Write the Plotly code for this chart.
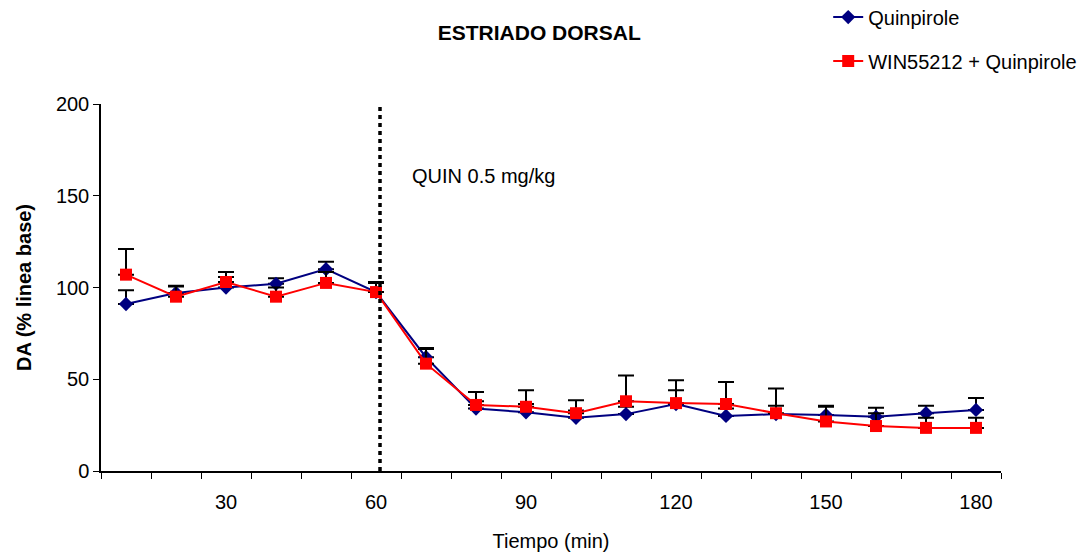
import plotly.graph_objects as go

tiempo = [10, 20, 30, 40, 50, 60, 70, 80, 90, 100, 110, 120, 130, 140, 150, 160, 170, 180]
quin = [91, 97, 100, 102, 110, 97.5, 62, 34, 32, 29, 31, 36.5, 30, 31, 30.5, 29.5, 31.5, 33.3]
quin_err = [7.5, 4, 5.7, 3, 4, 5, 5, 4, 4.5, 4, 4, 7.5, 4, 4.5, 5, 5, 4, 6.5]
win = [107, 95, 103, 95, 102.5, 97.5, 58.5, 36, 35, 31.5, 38, 37, 36.5, 31.5, 27, 24.5, 23.5, 23.5]
win_err = [14, 5.5, 5.4, 5, 6, 5.5, 8, 7, 9, 7, 14, 12.5, 12, 13.5, 8, 7, 5.5, 5.5]
x_labels = [30, 60, 90, 120, 150, 180]
y_ticks = [0, 50, 100, 150, 200]

FONT = "Liberation Sans, Arial, sans-serif"

fig = go.Figure()
fig.add_trace(go.Scatter(
    x=tiempo, y=quin, name="Quinpirole", mode="lines+markers",
    line=dict(color="#000080", width=2),
    marker=dict(symbol="diamond", size=11, color="#000080"),
    error_y=dict(type="data", array=quin_err, arrayminus=[0] * len(quin),
                 color="black", thickness=2, width=8),
    legendgroup="a",
))
fig.add_trace(go.Scatter(
    x=tiempo, y=win, name="WIN55212 + Quinpirole", mode="lines+markers",
    line=dict(color="#FF0000", width=2),
    marker=dict(symbol="square", size=12, color="#FF0000"),
    error_y=dict(type="data", array=win_err, arrayminus=[0] * len(win),
                 color="black", thickness=2, width=8),
    legendgroup="b",
))

fig.add_shape(type="line", xref="x", yref="paper", x0=60.8, x1=60.8, y0=0, y1=1,
              line=dict(color="black", width=3.5, dash="4px,4px"))
fig.add_annotation(text="QUIN 0.5 mg/kg", xref="x", yref="y", x=66.8, y=161,
                   xanchor="left", yanchor="middle", showarrow=False,
                   font=dict(family=FONT, size=20, color="black"))

fig.update_layout(
    width=1091, height=552,
    margin=dict(l=101, r=90, t=104, b=81, autoexpand=False),
    paper_bgcolor="white", plot_bgcolor="white",
    font=dict(family=FONT, size=20, color="black"),
    title=dict(text="<b>ESTRIADO DORSAL</b>", x=0.487, xanchor="center", xref="paper",
               y=0.940, yanchor="middle", font=dict(family=FONT, size=21, color="black")),
    legend=dict(x=0.808, y=1.29, xanchor="left", yanchor="top",
                font=dict(family=FONT, size=20, color="black"),
                tracegroupgap=15, bgcolor="rgba(0,0,0,0)"),
    showlegend=True,
)

fig.update_xaxes(
    range=[5, 185], tickmode="array", tickvals=x_labels, ticktext=[str(v) for v in x_labels],
    ticks="outside", ticklen=12, tickcolor="rgba(0,0,0,0)", automargin=False,
    showline=True, linecolor="black", linewidth=1.5, showgrid=False, zeroline=False,
    minor=dict(tickmode="linear", tick0=5, dtick=10, ticks="outside", ticklen=6,
               tickcolor="black", tickwidth=1, showgrid=False),
    title=dict(text="Tiempo (min)", font=dict(family=FONT, size=20), standoff=24),
    tickfont=dict(family=FONT, size=20),
)
fig.update_yaxes(
    range=[0, 200], tickmode="array", tickvals=y_ticks, ticks="outside", ticklen=6,
    tickcolor="black", showline=True, linecolor="black", linewidth=1.5, automargin=False,
    showgrid=False, zeroline=False,
    title=dict(text="<b>DA (% linea base)</b>", font=dict(family=FONT, size=20), standoff=19),
    tickfont=dict(family=FONT, size=20),
)

fig.write_html("out.html", config={"displayModeBar": False},
               post_script="document.body.style.margin='0';")
